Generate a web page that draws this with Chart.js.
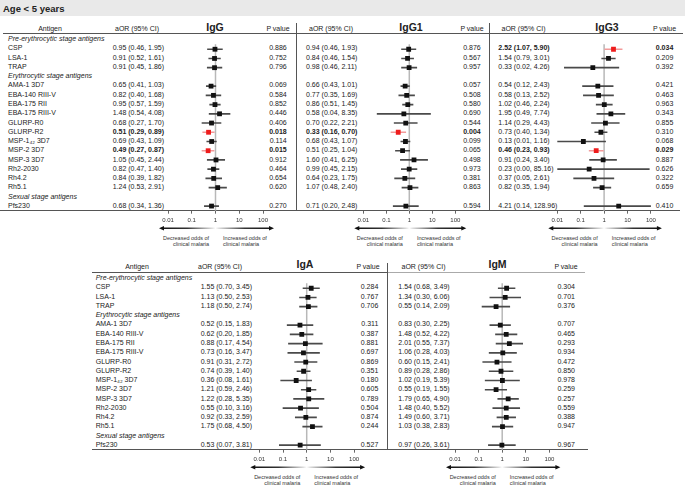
<!DOCTYPE html>
<html>
<head>
<meta charset="utf-8">
<script src="https://cdn.jsdelivr.net/npm/chart.js@4.4.0/dist/chart.umd.min.js"></script>
<style>
  body { margin: 0; background: #fff; }
  #fig { position: relative; width: 685px; height: 486px; overflow: hidden;
         font-family: "Liberation Sans", Arial, sans-serif; color: #222; }
  .t { position: absolute; font-size: 7px; line-height: 10px; height: 10px; white-space: nowrap; }
  .ln { position: absolute; }
  canvas { position: absolute; }
</style>
</head>
<body>
<div id="fig"></div>
<script>
// --- data ---
const sections = ["Pre-erythrocytic stage antigens", "Erythrocytic stage antigens", "Sexual stage antigens"];
const antigens = ["CSP", "LSA-1", "TRAP", "AMA-1 3D7", "EBA-140 RIII-V", "EBA-175 RII", "EBA-175 RIII-V",
  "GLURP-R0", "GLURP-R2", "MSP-1₄₂ 3D7", "MSP-2 3D7", "MSP-3 3D7", "Rh2-2030", "Rh4.2", "Rh5.1", "Pfs230"];
const antigenSection = [0, 0, 0, 1, 1, 1, 1, 1, 1, 1, 1, 1, 1, 1, 1, 2];
const tickValues = [0.01, 0.1, 1, 10, 100];
const tickLabels = ["0.01", "0.1", "1", "10", "100"];

const iggAor  = [0.95, 0.91, 0.91, 0.65, 0.82, 0.95, 1.48, 0.68, 0.51, 0.69, 0.49, 1.05, 0.82, 0.84, 1.24, 0.68];
const iggLow  = [0.46, 0.52, 0.45, 0.41, 0.40, 0.57, 0.54, 0.27, 0.29, 0.43, 0.27, 0.45, 0.47, 0.39, 0.53, 0.34];
const iggHigh = [1.95, 1.61, 1.86, 1.03, 1.68, 1.59, 4.08, 1.70, 0.89, 1.09, 0.87, 2.44, 1.40, 1.82, 2.91, 1.36];
const iggP    = [0.886, 0.752, 0.796, 0.069, 0.584, 0.852, 0.446, 0.406, 0.018, 0.114, 0.015, 0.912, 0.464, 0.654, 0.620, 0.270];

const igg1Aor  = [0.94, 0.84, 0.98, 0.66, 0.77, 0.86, 0.58, 0.70, 0.33, 0.68, 0.51, 1.60, 0.99, 0.64, 1.07, 0.71];
const igg1Low  = [0.46, 0.46, 0.46, 0.43, 0.35, 0.51, 0.04, 0.22, 0.16, 0.43, 0.25, 0.41, 0.45, 0.23, 0.48, 0.20];
const igg1High = [1.93, 1.54, 2.11, 1.01, 1.69, 1.45, 8.35, 2.21, 0.70, 1.07, 1.04, 6.25, 2.15, 1.75, 2.40, 2.48];
const igg1P    = [0.876, 0.567, 0.957, 0.057, 0.508, 0.580, 0.690, 0.544, 0.004, 0.099, 0.065, 0.498, 0.973, 0.381, 0.863, 0.594];

const igg3Aor  = [2.52, 1.54, 0.33, 0.54, 0.58, 1.02, 1.95, 1.14, 0.73, 0.13, 0.46, 0.91, 0.23, 0.37, 0.82, 4.21];
const igg3Low  = [1.07, 0.79, 0.02, 0.12, 0.13, 0.46, 0.49, 0.29, 0.40, 0.01, 0.23, 0.24, 0.002, 0.05, 0.35, 0.14];
const igg3High = [5.90, 3.01, 4.26, 2.43, 2.52, 2.24, 7.74, 4.43, 1.34, 1.16, 0.93, 3.40, 85.16, 2.61, 1.94, 128.96];
const igg3P    = [0.034, 0.209, 0.392, 0.421, 0.463, 0.963, 0.343, 0.855, 0.310, 0.068, 0.029, 0.887, 0.626, 0.322, 0.659, 0.410];

const igaAor  = [1.55, 1.13, 1.18, 0.52, 0.62, 0.88, 0.73, 0.91, 0.74, 0.36, 1.21, 1.22, 0.55, 0.92, 1.75, 0.53];
const igaLow  = [0.70, 0.50, 0.50, 0.15, 0.20, 0.17, 0.16, 0.31, 0.39, 0.08, 0.59, 0.28, 0.10, 0.33, 0.68, 0.07];
const igaHigh = [3.45, 2.53, 2.74, 1.83, 1.85, 4.54, 3.47, 2.72, 1.40, 1.61, 2.46, 5.35, 3.16, 2.59, 4.50, 3.81];
const igaP    = [0.284, 0.767, 0.706, 0.311, 0.387, 0.881, 0.697, 0.869, 0.351, 0.180, 0.605, 0.789, 0.504, 0.874, 0.244, 0.527];

const igmAor  = [1.54, 1.34, 0.55, 0.83, 1.48, 2.01, 1.06, 0.60, 0.89, 1.02, 0.55, 1.79, 1.48, 1.49, 1.03, 0.97];
const igmLow  = [0.68, 0.30, 0.14, 0.30, 0.52, 0.55, 0.28, 0.15, 0.28, 0.19, 0.19, 0.65, 0.40, 0.60, 0.38, 0.26];
const igmHigh = [3.49, 6.06, 2.09, 2.25, 4.22, 7.37, 4.03, 2.41, 2.86, 5.39, 1.55, 4.90, 5.52, 3.71, 2.83, 3.61];
const igmP    = [0.304, 0.701, 0.376, 0.707, 0.465, 0.293, 0.934, 0.472, 0.850, 0.978, 0.259, 0.257, 0.559, 0.388, 0.947, 0.967];

// --- layout ---
const fig = document.getElementById("fig");
const FONT = '"Liberation Sans", Arial, sans-serif';
const rowH = 9.28;

const blocks = {
  top:    { base: 39,  labelX: 8,    antigenHead: 50,  headY: 28.5, titleY: 27 },
  bottom: { base: 278, labelX: 95.7, antigenHead: 137, headY: 267,  titleY: 263.5 }
};

const panels = [
  { name: "IgG",  aor: iggAor,  low: iggLow,  high: iggHigh,  p: iggP,  block: "top",    x001: 168,   dec: 23.75, aorX: 112.7, aorHead: 137,   titleX: 215,   pX: 286.7, pHead: 278 },
  { name: "IgG1", aor: igg1Aor, low: igg1Low, high: igg1High, p: igg1P, block: "top",    x001: 363.3, dec: 23.0,  aorX: 306,   aorHead: 331,   titleX: 411,   pX: 480.7, pHead: 472 },
  { name: "IgG3", aor: igg3Aor, low: igg3Low, high: igg3High, p: igg3P, block: "top",    x001: 557.3, dec: 23.4,  aorX: 498.3, aorHead: 523.5, titleX: 607,   pX: 673.3, pHead: 664.5 },
  { name: "IgA",  aor: igaAor,  low: igaLow,  high: igaHigh,  p: igaP,  block: "bottom", x001: 259.3, dec: 23.7,  aorX: 200.7, aorHead: 220,   titleX: 305,   pX: 378.3, pHead: 368 },
  { name: "IgM",  aor: igmAor,  low: igmLow,  high: igmHigh,  p: igmP,  block: "bottom", x001: 455,   dec: 23.6,  aorX: 398.3, aorHead: 423.5, titleX: 497.5, pX: 575,   pHead: 566 }
];

// rows: section headings interleaved with antigens
const rows = [];
antigens.forEach((a, i) => {
  const s = antigenSection[i];
  if (i === 0 || antigenSection[i - 1] !== s) rows.push({ section: s, text: sections[s] });
  rows.push({ antigen: i, text: a });
});
const rowLabels = rows.map(r => r.text);

function addText(str, x, y, opt = {}) {
  const d = document.createElement("div");
  d.className = "t";
  d.textContent = str;
  d.style.fontSize = (opt.size || 7) + "px";
  d.style.left = x + "px";
  d.style.top = (y - 5) + "px";
  if (opt.bold) d.style.fontWeight = "bold";
  if (opt.italic) d.style.fontStyle = "italic";
  if (opt.color) d.style.color = opt.color;
  if (opt.align === "center") d.style.transform = "translateX(-50%)";
  if (opt.align === "right") d.style.transform = "translateX(-100%)";
  fig.appendChild(d);
}
function addLine(x, y, w, h, color) {
  const d = document.createElement("div");
  d.className = "ln";
  d.style.left = x + "px"; d.style.top = y + "px";
  d.style.width = w + "px"; d.style.height = h + "px";
  d.style.background = color;
  fig.appendChild(d);
}

// title band
addLine(0, 0, 685, 16, "#e9e9e9");
addText("Age < 5 years", 3, 8.5, { size: 9.5, bold: true });

// table lines
addLine(3, 32.5, 680, 1, "#555");
addLine(0, 210, 680, 1, "#555");
addLine(295.5, 23, 1.3, 188, "#555");
addLine(488.5, 23, 1.3, 188, "#555");
addLine(92, 271.5, 295, 1, "#555");
addLine(387, 272, 198, 1, "#aaa");
addLine(92, 449, 496, 1, "#555");
addLine(386.5, 263, 1.3, 187, "#555");

// antigen columns
Object.values(blocks).forEach(b => {
  addText("Antigen", b.antigenHead, b.headY, { align: "center" });
  rows.forEach((r, i) => {
    addText(r.text, b.labelX, b.base + i * rowH, { italic: r.section !== undefined });
  });
});

function fmtCI(pn, i) {
  return pn.aor[i].toFixed(2) + " (" + pn.low[i].toFixed(2) + ", " + pn.high[i].toFixed(2) + ")";
}

const forestDecor = {
  id: "forestDecor",
  beforeDatasetsDraw(chart) {
    const { ctx, chartArea } = chart;
    const x = chart.scales.x, y = chart.scales.y;
    const px = x.getPixelForValue(1);
    ctx.save();
    ctx.strokeStyle = "#b8b8b8";
    ctx.lineWidth = 1.5;
    ctx.beginPath();
    ctx.moveTo(px, y.getPixelForValue(1) - 5);
    ctx.lineTo(px, chartArea.bottom);
    ctx.stroke();
    ctx.restore();
  },
  afterDraw(chart) {
    const { ctx, chartArea } = chart;
    const x = chart.scales.x;
    const x1 = x.getPixelForValue(0.01) - 9;
    const x2 = x.getPixelForValue(100) + 11;
    const xc = x.getPixelForValue(1);
    const ay = chartArea.bottom + 17.5;
    const c = (xc - x1) / (x2 - x1);
    const g = ctx.createLinearGradient(x1, 0, x2, 0);
    g.addColorStop(0, "#111");
    g.addColorStop(c * 0.5, "#333");
    g.addColorStop(c - 0.03, "#ddd");
    g.addColorStop(c, "#fff");
    g.addColorStop(c + 0.03, "#ddd");
    g.addColorStop(c + (1 - c) * 0.5, "#333");
    g.addColorStop(1, "#111");
    ctx.save();
    ctx.strokeStyle = g;
    ctx.lineWidth = 1.5;
    ctx.beginPath();
    ctx.moveTo(x1 + 3, ay);
    ctx.lineTo(x2 - 3, ay);
    ctx.stroke();
    ctx.fillStyle = "#111";
    ctx.beginPath();
    ctx.moveTo(x1, ay); ctx.lineTo(x1 + 5, ay - 2.2); ctx.lineTo(x1 + 5, ay + 2.2); ctx.closePath();
    ctx.moveTo(x2, ay); ctx.lineTo(x2 - 5, ay - 2.2); ctx.lineTo(x2 - 5, ay + 2.2); ctx.closePath();
    ctx.fill();
    ctx.restore();
  }
};

panels.forEach(pn => {
  const b = blocks[pn.block];
  const chartTop = b.base - rowH / 2;
  const chartBottom = chartTop + rows.length * rowH;
  const axisH = 26;
  const cLeft = Math.floor(pn.x001) - 18;
  const cTop = Math.floor(chartTop) - 2;
  const cW = 130;
  const cH = Math.ceil(chartBottom - cTop + axisH);
  const xRight = pn.x001 + 4 * pn.dec;

  // header + text columns
  addText("aOR (95% CI)", pn.aorHead, b.headY, { align: "center" });
  addText(pn.name, pn.titleX, b.titleY, { align: "center", size: 10.5, bold: true });
  addText("P value", pn.pHead, b.headY, { align: "center" });
  rows.forEach((r, i) => {
    if (r.antigen === undefined) return;
    const k = r.antigen;
    const sig = pn.p[k] < 0.05;
    const y = b.base + i * rowH;
    addText(fmtCI(pn, k), pn.aorX, y, { bold: sig });
    addText(pn.p[k].toFixed(3), pn.pX, y, { bold: sig, align: "right" });
  });

  // odds captions under the arrow
  const xc = pn.x001 + 2 * pn.dec;
  addText("Decreased odds of", xc - 6.4, chartBottom + 27, { size: 5.5, align: "right", color: "#333" });
  addText("clinical malaria", xc - 6.4, chartBottom + 33.8, { size: 5.5, align: "right", color: "#333" });
  addText("Increased odds of", xc + 7.6, chartBottom + 27, { size: 5.5, color: "#333" });
  addText("clinical malaria", xc + 7.6, chartBottom + 33.8, { size: 5.5, color: "#333" });

  const canvas = document.createElement("canvas");
  canvas.width = cW; canvas.height = cH;
  canvas.style.left = cLeft + "px"; canvas.style.top = cTop + "px";
  canvas.style.width = cW + "px"; canvas.style.height = cH + "px";
  fig.appendChild(canvas);

  const pts = rows.map(r => r.antigen === undefined ? null : pn.aor[r.antigen]);
  const cis = rows.map(r => r.antigen === undefined ? null : [pn.low[r.antigen], pn.high[r.antigen]]);
  const sig = rows.map(r => r.antigen !== undefined && pn.p[r.antigen] < 0.05);

  new Chart(canvas, {
    type: "bar",
    data: {
      labels: rowLabels,
      datasets: [
        {
          type: "line", indexAxis: "y", data: pts, showLine: false, order: 0,
          pointStyle: "rect", pointRadius: 3.4, pointHoverRadius: 3.4, pointBorderWidth: 0,
          pointBackgroundColor: sig.map(s => s ? "#ee1c1c" : "#111"),
          pointBorderColor: sig.map(s => s ? "#ee1c1c" : "#111")
        },
        {
          type: "bar", indexAxis: "y", data: cis, order: 1, clip: 0,
          barThickness: 1, borderWidth: 0,
          backgroundColor: sig.map(s => s ? "#f39a9a" : "#4a4a4a")
        }
      ]
    },
    options: {
      indexAxis: "y",
      responsive: false,
      animation: false,
      events: [],
      layout: { padding: { left: pn.x001 - cLeft, right: cLeft + cW - xRight, top: chartTop - cTop, bottom: cTop + cH - axisH - chartBottom } },
      plugins: { legend: { display: false }, tooltip: { enabled: false } },
      scales: {
        x: {
          type: "logarithmic", min: 0.01, max: 100,
          afterBuildTicks: s => { s.ticks = tickValues.map(v => ({ value: v })); },
          afterFit: s => { s.height = axisH; },
          border: { display: false },
          grid: { drawOnChartArea: false, drawTicks: true, tickLength: 3, color: "#666" },
          ticks: {
            autoSkip: false, maxRotation: 0, padding: 3, color: "#333",
            font: { size: 6, family: FONT },
            callback: v => { const i = tickValues.indexOf(v); return i >= 0 ? tickLabels[i] : ""; }
          }
        },
        y: { type: "category", display: false, offset: true }
      }
    },
    plugins: [forestDecor]
  });
});
</script>
</body>
</html>
